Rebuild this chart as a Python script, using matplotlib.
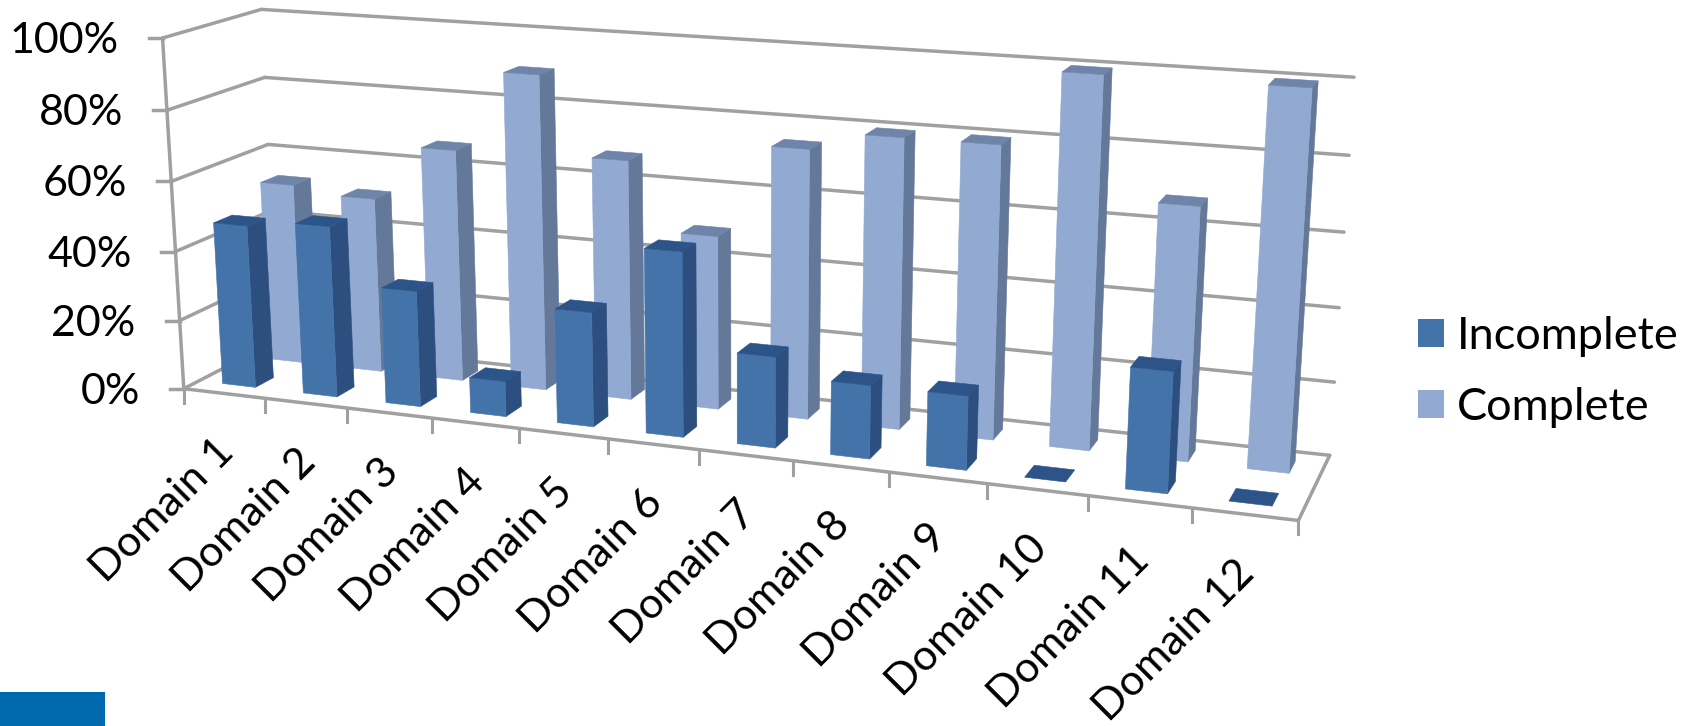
"""
plot.py
3-D style clustered column chart of domain completion, drawn on a flat axes
with a small pinhole camera.
"""

import numpy as np
import matplotlib.pyplot as plt
from matplotlib.patches import Polygon, Rectangle

domains = [f"Domain {i}" for i in range(1, 13)]
incomplete = [47, 49, 33, 10, 32, 51, 25, 20, 20, 0, 32, 0]
complete = [53, 51, 67, 90, 68, 49, 75, 80, 80, 100, 68, 100]
pct_ticks = [0, 20, 40, 60, 80, 100]

GREY = "#a0a0a0"
FACES_INC = {"front": "#4473aa", "side": "#2c4f7f", "top": "#2d5488"}
FACES_COM = {"front": "#92a9d2", "side": "#647899", "top": "#6f84a9"}

BAR_W = 0.41
BAR_D = 0.19

# Frame reference points: (category pos, depth 0-1, pct) -> canvas pixel
FRAME = [
    (0, 0, 0, 185, 388),
    (12, 0, 0, 1299, 521),
    (12, 1, 0, 1330, 454),
    (0, 1, 0, 277, 341),
    (0, 0, 100, 162, 38),
    (0, 1, 100, 262, 9),
    (12, 1, 100, 1354, 78),
    (0, 0, 60, 171, 181),
    (12, 1, 60, 1344, 232),
    (6, 0, 0, 699, 451),
    (9, 0, 0, 986, 483),
]


def fit_camera(points):
    """Direct linear transform: 3x4 projection from point correspondences"""
    rows = []
    for x, d, z, u, v in points:
        X = [x, d, z, 1]
        rows.append(X + [0, 0, 0, 0] + [-u * c for c in X])
        rows.append([0, 0, 0, 0] + X + [-v * c for c in X])
    _, _, vt = np.linalg.svd(np.array(rows, dtype=float))
    return vt[-1].reshape(3, 4)


CAM = fit_camera(FRAME)


def proj(x, d, z):
    p = CAM @ np.array([x, d, z, 1.0])
    return p[0] / p[2], p[1] / p[2]


def line3(ax, a, b):
    (x0, y0), (x1, y1) = proj(*a), proj(*b)
    ax.plot([x0, x1], [y0, y1], color=GREY, lw=2.5, solid_capstyle="round", zorder=1)


def draw_bar(ax, i, depth, value, faces):
    x0, x1 = i + 0.5 - BAR_W / 2, i + 0.5 + BAR_W / 2
    d0, d1 = depth - BAR_D / 2, depth + BAR_D / 2
    quads = {
        "side": [(x1, d0, 0), (x1, d1, 0), (x1, d1, value), (x1, d0, value)],
        "front": [(x0, d0, 0), (x1, d0, 0), (x1, d0, value), (x0, d0, value)],
        "top": [(x0, d0, value), (x1, d0, value), (x1, d1, value), (x0, d1, value)],
    }
    for name, quad in quads.items():
        if value == 0 and name != "top":
            continue
        ax.add_patch(
            Polygon([proj(*q) for q in quad], closed=True, fc=faces[name], ec=faces[name], lw=0.4, zorder=3)
        )


fig = plt.figure(figsize=(16.96, 7.26), dpi=100)
ax = fig.add_axes([0, 0, 1, 1])
ax.set_xlim(0, 1696)
ax.set_ylim(726, 0)
ax.axis("off")

plt.rcParams["font.family"] = ["Lato", "DejaVu Sans"]

# Walls and floor
for p in pct_ticks:
    line3(ax, (0, 0, p), (0, 1, p))
    line3(ax, (0, 1, p), (12, 1, p))
    u, v = proj(0, 0, p)
    ax.plot([u - 14, u], [v, v], color=GREY, lw=2.5, zorder=1)
    ax.text(u - 44, v + 3, f"{p}%", ha="right", va="center", fontsize=31)
line3(ax, (0, 0, 0), (0, 0, 100))
line3(ax, (0, 0, 0), (12, 0, 0))
line3(ax, (12, 0, 0), (12, 1, 0))
for i in range(13):
    u, v = proj(i, 0, 0)
    ax.plot([u, u], [v, v + 14], color=GREY, lw=2.2, zorder=1)

# Back row first, then the front row, right to left so nearer columns overlap
for i in range(11, -1, -1):
    draw_bar(ax, i, 0.75, complete[i], FACES_COM)
for i in range(11, -1, -1):
    draw_bar(ax, i, 0.25, incomplete[i], FACES_INC)

# Category labels
for i, name in enumerate(domains):
    u, v = proj(i + 0.5, 0, 0)
    ax.text(
        u - 10, v + 39, name, rotation=45, rotation_mode="anchor",
        ha="right", va="top", fontsize=31,
    )

ax.legend(
    handles=[
        Rectangle((0, 0), 1, 1, fc=FACES_INC["front"], label="Incomplete"),
        Rectangle((0, 0), 1, 1, fc=FACES_COM["front"], label="Complete"),
    ],
    loc="center left", bbox_to_anchor=(1418 / 1696, 1 - 372 / 726),
    frameon=False, fontsize=32.5, handlelength=0.58, handleheight=0.58,
    handletextpad=0.28, labelspacing=0.65, borderpad=0, borderaxespad=0,
)

# Corner block
ax.add_patch(Rectangle((0, 692), 105, 34, fc="#0068ad", ec="none"))

fig.savefig("out.png", dpi=100)
